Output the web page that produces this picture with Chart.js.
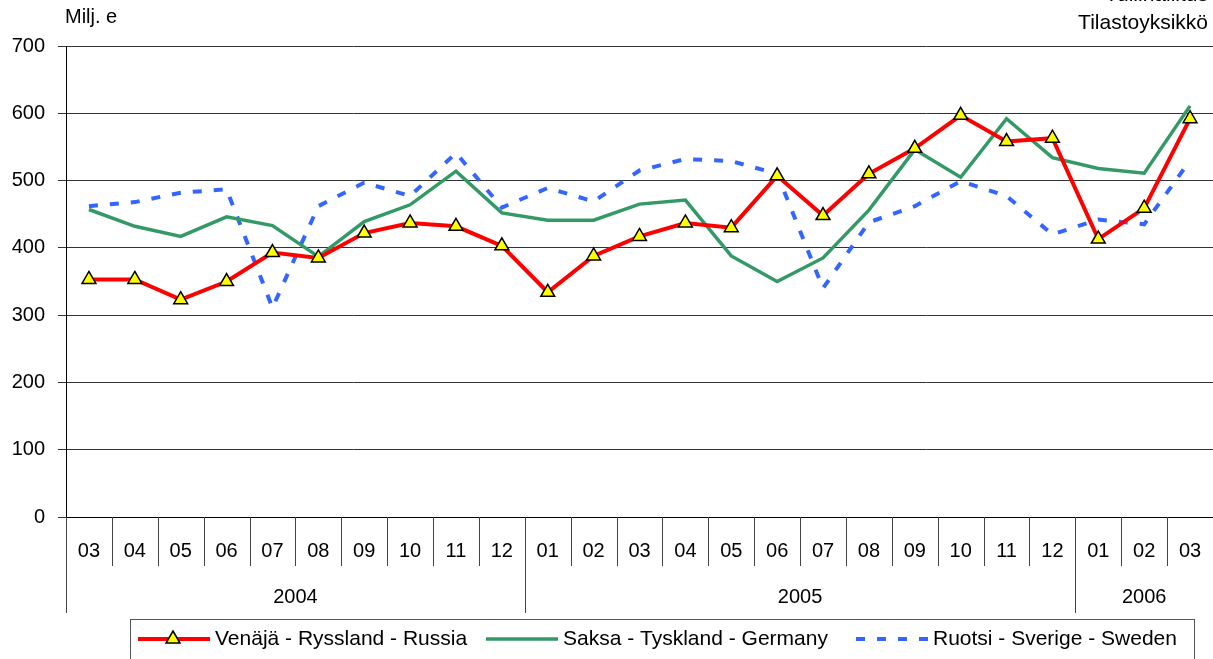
<!DOCTYPE html>
<html>
<head>
<meta charset="utf-8">
<script src="https://cdn.jsdelivr.net/npm/chart.js@4.4.0/dist/chart.umd.min.js"></script>
<style>
  html, body { margin: 0; padding: 0; background: #fff; overflow: hidden; }
</style>
</head>
<body>
<canvas id="trade-chart" width="1213" height="659"></canvas>
<script>
// months 03/2004 .. 03/2006
const months = ["03","04","05","06","07","08","09","10","11","12",
                "01","02","03","04","05","06","07","08","09","10","11","12",
                "01","02","03"];
const years = ["2004", "2005", "2006"];
const yearSpans = [10, 12, 3];

const russia  = [353, 353, 323, 350, 393, 385, 422, 437, 432, 403, 334, 388, 417,
                 437, 430, 507, 448, 510, 548, 597, 558, 563, 413, 459, 592];
const germany = [457, 432, 417, 446, 433, 387, 439, 464, 514, 452, 441, 441, 465,
                 471, 388, 350, 385, 456, 546, 505, 592, 534, 518, 511, 611];
const sweden  = [462, 468, 482, 487, 311, 462, 497, 477, 541, 460, 489, 469, 515,
                 532, 529, 510, 340, 438, 462, 499, 477, 420, 442, 435, 530];

const seriesNames = ["Venäjä - Ryssland - Russia", "Saksa - Tyskland - Germany", "Ruotsi - Sverige - Sweden"];
const yUnit = "Milj. e";
const source = ["Tullihallitus", "Tilastoyksikkö"];

const FONT = "Liberation Sans, Arial, sans-serif";

// extra drawing: titles, category separators, year row, legend
const decorations = {
  id: "decorations",
  afterDraw(chart) {
    const ctx = chart.ctx;
    const x = chart.scales.x;
    const area = chart.chartArea;
    const half = (x.getPixelForValue(1) - x.getPixelForValue(0)) / 2;

    ctx.save();
    ctx.fillStyle = "#000";
    ctx.textBaseline = "middle";

    //unit label + source
    ctx.font = "20px " + FONT;
    ctx.textAlign = "left";
    ctx.fillText(yUnit, 65, 17);
    ctx.font = "21px " + FONT;
    ctx.textAlign = "right";
    ctx.fillText(source[0], 1208, -5);
    ctx.fillText(source[1], 1208, 23);

    //separators between months, longer ones between years
    const yearEdges = [0];
    yearSpans.reduce((acc, n) => { yearEdges.push(acc + n); return acc + n; }, 0);
    ctx.strokeStyle = "#444";
    ctx.lineWidth = 1;
    for (let i = 0; i < months.length; i++) {
      const px = Math.round(x.getPixelForValue(i) - half) + 0.5;
      const long = yearEdges.includes(i);
      ctx.beginPath();
      ctx.moveTo(px, area.bottom);
      ctx.lineTo(px, long ? 613 : 566);
      ctx.stroke();
    }

    //year labels
    ctx.font = "20px " + FONT;
    ctx.textAlign = "center";
    years.forEach((yr, k) => {
      const a = x.getPixelForValue(yearEdges[k]) - half;
      const b = x.getPixelForValue(yearEdges[k + 1] - 1) + half;
      ctx.fillText(yr, (a + b) / 2, 597);
    });

    //legend
    ctx.strokeStyle = "#555";
    ctx.strokeRect(130.5, 619.5, 1064, 60);
    const starts = [138, 486, 856];
    const ly = 639;
    ctx.font = "21px " + FONT;
    ctx.textAlign = "left";
    chart.data.datasets.forEach((ds, k) => {
      const sx = starts[k];
      ctx.save();
      ctx.strokeStyle = ds.borderColor;
      ctx.lineWidth = ds.borderWidth;
      ctx.setLineDash(ds.borderDash || []);
      ctx.beginPath();
      ctx.moveTo(sx, ly);
      ctx.lineTo(sx + 72, ly);
      ctx.stroke();
      ctx.restore();
      if (ds.pointRadius > 0) {
        ctx.fillStyle = ds.pointBackgroundColor;
        ctx.strokeStyle = ds.pointBorderColor;
        ctx.lineWidth = ds.pointBorderWidth;
        ctx.beginPath();
        const r = ds.pointRadius;
        ctx.moveTo(sx + 35, ly - r);
        ctx.lineTo(sx + 35 + r * 0.87, ly + r * 0.5);
        ctx.lineTo(sx + 35 - r * 0.87, ly + r * 0.5);
        ctx.closePath();
        ctx.fill();
        ctx.stroke();
      }
      ctx.fillStyle = "#000";
      ctx.fillText(ds.label, sx + 77, ly);
    });
    ctx.restore();
  }
};

new Chart(document.getElementById("trade-chart"), {
  type: "line",
  data: {
    labels: months,
    datasets: [
      {
        label: seriesNames[0],
        data: russia,
        borderColor: "#FF0000",
        borderWidth: 4,
        pointStyle: "triangle",
        pointRadius: 8,
        pointBackgroundColor: "#FFFF00",
        pointBorderColor: "#000000",
        pointBorderWidth: 1.5,
        tension: 0,
      },
      {
        label: seriesNames[1],
        data: germany,
        borderColor: "#339966",
        borderWidth: 3.5,
        pointRadius: 0,
        tension: 0,
      },
      {
        label: seriesNames[2],
        data: sweden,
        borderColor: "#3366FF",
        borderWidth: 4,
        borderDash: [9, 12],
        pointRadius: 0,
        tension: 0,
      },
    ],
  },
  options: {
    responsive: false,
    animation: false,
    layout: { autoPadding: false, padding: { top: 46, right: -2, left: 0, bottom: 0 } },
    plugins: { legend: { display: false }, tooltip: { enabled: false } },
    scales: {
      x: {
        offset: true,
        // tick marks hidden, their length only pushes the month labels down
        grid: { display: false, drawTicks: true, tickLength: 22 },
        border: { display: true, color: "#000" },
        ticks: { color: "#000", font: { family: FONT, size: 20 }, padding: 0, maxRotation: 0, autoSkip: false },
        afterFit: (scale) => { scale.height = 142; },
      },
      y: {
        min: 0,
        max: 700,
        ticks: { stepSize: 100, color: "#000", font: { family: FONT, size: 20 }, padding: 13 },
        grid: { color: "#333", tickLength: 8 },
        border: { display: true, color: "#000" },
        afterFit: (scale) => { scale.width = 66; },
      },
    },
  },
  plugins: [decorations],
});
</script>
</body>
</html>
